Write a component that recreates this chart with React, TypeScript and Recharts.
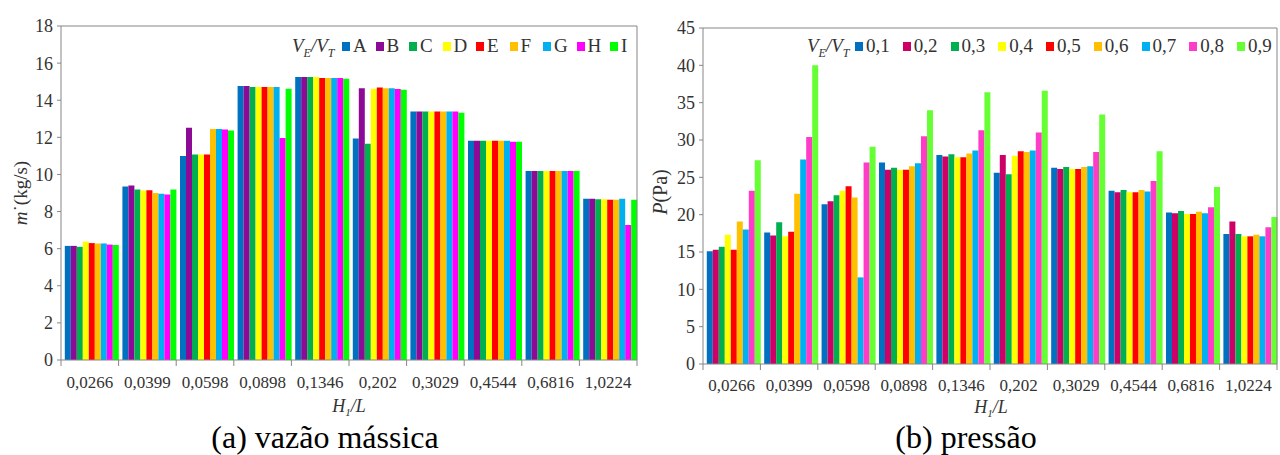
import { BarChart, Bar, XAxis, YAxis } from 'recharts';

const heightRatios = ['0,0266', '0,0399', '0,0598', '0,0898', '0,1346', '0,202', '0,3029', '0,4544', '0,6816', '1,0224'];

// (a) mass flow, kg/s
const massNames = ['A', 'B', 'C', 'D', 'E', 'F', 'G', 'H', 'I'];
const massColors = ['#0070C0', '#8C0A96', '#00B050', '#FFFF00', '#FF0000', '#FFC000', '#00B0F0', '#FF00FF', '#00FF00'];
const massA = [6.15, 9.35, 11.0, 14.77, 15.25, 11.94, 13.39, 11.81, 10.18, 8.69];
const massB = [6.15, 9.4, 12.51, 14.77, 15.25, 14.64, 13.39, 11.81, 10.18, 8.69];
const massC = [6.1, 9.19, 11.07, 14.71, 15.25, 11.65, 13.39, 11.81, 10.18, 8.66];
const massD = [6.38, 9.14, 11.07, 14.71, 15.25, 14.62, 13.39, 11.81, 10.18, 8.66];
const massE = [6.3, 9.15, 11.07, 14.71, 15.2, 14.68, 13.39, 11.81, 10.18, 8.64];
const massF = [6.28, 9.0, 12.45, 14.71, 15.2, 14.64, 13.39, 11.81, 10.18, 8.64];
const massG = [6.28, 8.96, 12.45, 14.71, 15.2, 14.64, 13.39, 11.81, 10.18, 8.69];
const massH = [6.22, 8.92, 12.42, 11.97, 15.2, 14.6, 13.39, 11.76, 10.18, 7.27];
const massI = [6.2, 9.19, 12.37, 14.62, 15.16, 14.57, 13.33, 11.76, 10.18, 8.64];
const massTicks = [0, 2, 4, 6, 8, 10, 12, 14, 16, 18];

// (b) pressure, Pa
const presNames = ['0,1', '0,2', '0,3', '0,4', '0,5', '0,6', '0,7', '0,8', '0,9'];
const presColors = ['#0070C0', '#CC0066', '#00B050', '#FFFF00', '#FF0000', '#FFC000', '#00B0F0', '#FF3CC8', '#66FF33'];
const pres01 = [15.1, 17.6, 21.4, 27.0, 28.0, 25.6, 26.3, 23.2, 20.3, 17.4];
const pres02 = [15.3, 17.2, 21.8, 26.0, 27.8, 28.0, 26.1, 23.0, 20.2, 19.1];
const pres03 = [15.7, 19.0, 22.6, 26.3, 28.1, 25.4, 26.4, 23.3, 20.5, 17.4];
const pres04 = [17.3, 17.1, 23.2, 26.0, 27.7, 27.9, 26.1, 23.0, 20.1, 17.1];
const pres05 = [15.3, 17.7, 23.8, 26.0, 27.7, 28.5, 26.1, 23.0, 20.1, 17.1];
const pres06 = [19.1, 22.8, 22.3, 26.5, 28.2, 28.4, 26.4, 23.3, 20.4, 17.3];
const pres07 = [18.0, 27.4, 11.6, 26.9, 28.6, 28.6, 26.5, 23.1, 20.2, 17.1];
const pres08 = [23.2, 30.4, 27.0, 30.5, 31.3, 31.0, 28.4, 24.5, 21.0, 18.3];
const pres09 = [27.3, 40.0, 29.1, 34.0, 36.4, 36.6, 33.4, 28.5, 23.7, 19.7];
const presTicks = [0, 5, 10, 15, 20, 25, 30, 35, 40, 45];

const massSeries = [massA, massB, massC, massD, massE, massF, massG, massH, massI];
const presSeries = [pres01, pres02, pres03, pres04, pres05, pres06, pres07, pres08, pres09];

const toRows = (series: number[][]) =>
  heightRatios.map((h, i) => {
    const row: Record<string, string | number> = { h };
    series.forEach((s, j) => (row['s' + j] = s[i]));
    return row;
  });

const FONT = '"Liberation Serif", serif';
const AXIS = '#868686';
const TEXT = '#333';

interface PanelProps {
  left: number;
  yWidth: number;
  top: number;
  xHeight: number;
  labelDy: number;
  max: number;
  ticks: number[];
  series: number[][];
  names: string[];
  colors: string[];
}

function Panel({ left, yWidth, top, xHeight, labelDy, max, ticks, series, names, colors }: PanelProps) {
  const W = 640;
  const H = 455;
  const marginRight = 2;
  const plotW = W - yWidth - marginRight - 1;
  const band = plotW / heightRatios.length;
  const axisY = H - xHeight;

  const XTick = (props: any) => {
    const { x, index } = props;
    const x0 = x - band / 2;
    return (
      <g>
        <line x1={x0} y1={axisY} x2={x0} y2={axisY + 6} stroke={AXIS} />
        {index === heightRatios.length - 1 && (
          <line x1={x0 + band} y1={axisY} x2={x0 + band} y2={axisY + 6} stroke={AXIS} />
        )}
        <text x={x} y={axisY + labelDy} textAnchor="middle" fill={TEXT} fontSize={17} fontFamily={FONT}>
          {props.payload.value}
        </text>
      </g>
    );
  };

  return (
    <div style={{ position: 'absolute', left, top: 0, fontFamily: FONT }}>
      <BarChart
        width={W}
        height={H}
        data={toRows(series)}
        margin={{ top, right: marginRight, bottom: 0, left: 0 }}
        barCategoryGap="6.6%"
        barGap={0}
      >
        <XAxis dataKey="h" interval={0} height={xHeight} stroke={AXIS} tickLine={false} tick={XTick} />
        <XAxis xAxisId="top" dataKey="h" orientation="top" height={1} stroke={AXIS} tick={false} tickLine={false} />
        <YAxis
          domain={[0, max]}
          ticks={ticks}
          interval={0}
          width={yWidth}
          stroke={AXIS}
          tickSize={4}
          tickMargin={4}
          tick={{ fill: TEXT, fontSize: 18, fontFamily: FONT }}
        />
        <YAxis yAxisId="right" orientation="right" width={1} stroke={AXIS} tick={false} tickLine={false} />
        {names.map((n, j) => (
          <Bar key={n} dataKey={'s' + j} name={n} fill={colors[j]} isAnimationActive={false} />
        ))}
      </BarChart>
    </div>
  );
}

function LegendRow({ titleLeft, start, step, names, colors }: { titleLeft: number; start: number; step: number; names: string[]; colors: string[] }) {
  const base: React.CSSProperties = { position: 'absolute', fontFamily: FONT, color: TEXT, fontSize: 19, whiteSpace: 'nowrap', lineHeight: '20px' };
  return (
    <>
      <span style={{ ...base, left: titleLeft, top: 36, fontStyle: 'italic' }}>
        V<sub style={{ fontSize: 12, lineHeight: 0 }}>E</sub>/V<sub style={{ fontSize: 12, lineHeight: 0 }}>T</sub>
      </span>
      {names.map((n, j) => (
        <span key={n} style={{ ...base, left: start + j * step, top: 36, display: 'flex', alignItems: 'center' }}>
          <span style={{ width: 8, height: 9, background: colors[j], marginRight: 3, display: 'inline-block' }} />
          {n}
        </span>
      ))}
    </>
  );
}

export default function App() {
  const label: React.CSSProperties = { position: 'absolute', fontFamily: FONT, color: TEXT, whiteSpace: 'nowrap' };
  return (
    <div style={{ position: 'absolute', left: 0, top: 0, width: 1280, height: 455, background: '#fff', overflow: 'hidden', fontFamily: FONT }}>
      <Panel left={0} yWidth={61} top={25} xHeight={95} labelDy={28} max={18} ticks={massTicks} series={massSeries} names={massNames} colors={massColors} />
      <Panel left={640} yWidth={63} top={27} xHeight={91} labelDy={27} max={45} ticks={presTicks} series={presSeries} names={presNames} colors={presColors} />

      <LegendRow titleLeft={292} start={342} step={33.5} names={massNames} colors={massColors} />
      <LegendRow titleLeft={807} start={855} step={47.75} names={presNames} colors={presColors} />

      <div style={{ ...label, left: 21, top: 193, fontSize: 19, transform: 'translate(-50%, -50%) rotate(-90deg)' }}>
        <i>m</i>˙(kg/s)
      </div>
      <div style={{ ...label, left: 660, top: 192, fontSize: 20, transform: 'translate(-50%, -50%) rotate(-90deg)' }}>
        <i>P</i>(Pa)
      </div>

      <div style={{ ...label, left: 349, top: 407, fontSize: 18, fontStyle: 'italic', transform: 'translate(-50%, -50%)' }}>
        H<sub style={{ fontSize: 11 }}>1</sub>/L
      </div>
      <div style={{ ...label, left: 991, top: 408, fontSize: 18, fontStyle: 'italic', transform: 'translate(-50%, -50%)' }}>
        H<sub style={{ fontSize: 11 }}>1</sub>/L
      </div>

      <div style={{ ...label, left: 325, top: 437, fontSize: 32, color: '#000', transform: 'translate(-50%, -50%)' }}>
        (a) vazão mássica
      </div>
      <div style={{ ...label, left: 966, top: 437, fontSize: 32, color: '#000', transform: 'translate(-50%, -50%)' }}>
        (b) pressão
      </div>
    </div>
  );
}
